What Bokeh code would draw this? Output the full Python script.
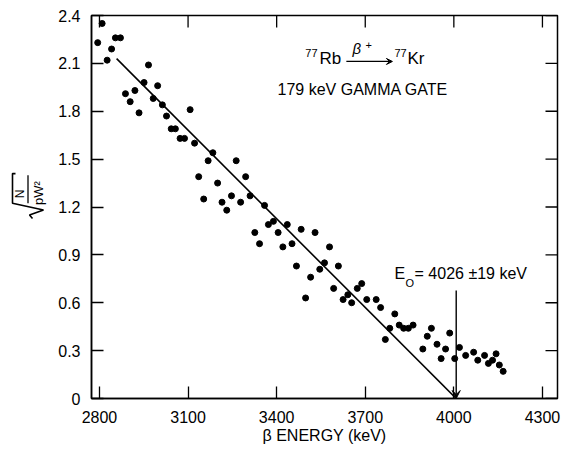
import math
from bokeh.plotting import figure
from bokeh.layouts import row
from bokeh.models import FixedTicker, Range1d, Label, Arrow, VeeHead
from bokeh.core.properties import value
from bokeh.embed import file_html
from bokeh.resources import INLINE

# ---- data ----
energy = [2794, 2809, 2826, 2841, 2854, 2871, 2888, 2904, 2920, 2934, 2951, 2966,
          2982, 2997, 3013, 3027, 3043, 3057, 3073, 3088, 3107, 3122, 3136, 3153,
          3168, 3184, 3200, 3215, 3231, 3247, 3263, 3278, 3295, 3310, 3326, 3342,
          3359, 3372, 3389, 3405, 3421, 3436, 3452, 3467, 3483, 3498, 3515, 3530,
          3546, 3562, 3579, 3593, 3609, 3625, 3641, 3654, 3673, 3688, 3705, 3737,
          3752, 3768, 3783, 3800, 3815, 3830, 3846, 3862, 3895, 3910, 3924, 3943,
          3957, 3972, 3986, 4003, 4019, 4040, 4067, 4081, 4104, 4117, 4131, 4143,
          4154, 4167]
kurie = [2.23, 2.35, 2.12, 2.19, 2.26, 2.26, 1.91, 1.86, 1.93, 1.79, 1.98, 2.09,
         1.88, 1.96, 1.84, 1.77, 1.69, 1.69, 1.63, 1.63, 1.81, 1.60, 1.39, 1.25,
         1.49, 1.54, 1.35, 1.23, 1.18, 1.27, 1.49, 1.23, 1.39, 1.27, 1.04, 0.97,
         1.21, 1.09, 1.11, 1.04, 0.95, 1.09, 0.97, 0.83, 1.06, 0.63, 0.76, 1.04,
         0.81, 0.85, 0.95, 0.69, 0.83, 0.62, 0.65, 0.60, 0.69, 0.72, 0.62, 0.62,
         0.57, 0.37, 0.44, 0.53, 0.46, 0.44, 0.44, 0.46, 0.31, 0.39, 0.44, 0.34,
         0.25, 0.31, 0.41, 0.25, 0.32, 0.27, 0.29, 0.24, 0.27, 0.22, 0.24, 0.28,
         0.21, 0.17]
fit_energy = [2858, 4008]
fit_value = [2.13, 0.0]
e0_marker = 4008

x_ticks = [2800, 3100, 3400, 3700, 4000, 4300]
y_ticks = [0, 0.3, 0.6, 0.9, 1.2, 1.5, 1.8, 2.1, 2.4]
y_tick_labels = ["0", "0.3", "0.6", "0.9", "1.2", "1.5", "1.8", "2.1", "2.4"]

FONT = "Liberation Sans"
X0, X1 = 2773, 4351
Y0, Y1 = 0, 2.4
H = 453
LW = 50  # width of the y-label strip

# ---------------- main plot ----------------
p = figure(frame_width=466, frame_height=383, output_backend="svg",
           toolbar_location=None,
           x_range=Range1d(X0, X1), y_range=Range1d(Y0, Y1),
           min_border_left=91 - LW, min_border_top=15, min_border_bottom=H - 15 - 383,
           min_border_right=5)
p.outline_line_color = "black"
p.outline_line_width = 1.5
p.grid.visible = False
p.background_fill_color = "white"

for ax in (p.xaxis[0], p.yaxis[0]):
    ax.axis_line_color = "black"
    ax.axis_line_width = 1.5
    ax.major_tick_in = 12
    ax.major_tick_out = 0
    ax.major_tick_line_width = 1.3
    ax.major_tick_line_color = "black"
    ax.minor_tick_line_color = None
    ax.major_label_text_font = FONT
    ax.major_label_text_font_size = "16px"
    ax.major_label_text_color = "black"

xa = p.xaxis[0]
xa.ticker = FixedTicker(ticks=x_ticks)
xa.major_label_standoff = 12
xa.axis_label = "β ENERGY (keV)"
xa.axis_label_text_font = FONT
xa.axis_label_text_font_size = "16px"
xa.axis_label_text_font_style = "normal"
xa.axis_label_text_color = "black"
xa.axis_label_standoff = 1

ya = p.yaxis[0]
ya.ticker = FixedTicker(ticks=y_ticks)
ya.major_label_overrides = {t: l for t, l in zip(y_ticks, y_tick_labels)}
ya.major_label_standoff = 11

# ticks on the top and right edges of the frame
tick_len_y = 12 * (Y1 - Y0) / 383
tick_len_x = 12 * (X1 - X0) / 466
p.segment(x0=x_ticks, y0=[Y1] * len(x_ticks), x1=x_ticks,
          y1=[Y1 - tick_len_y] * len(x_ticks), line_color="black", line_width=1.3)
p.segment(x0=[X1] * len(y_ticks), y0=y_ticks, x1=[X1 - tick_len_x] * len(y_ticks),
          y1=y_ticks, line_color="black", line_width=1.3)

# data points and fit line
p.scatter(energy, kurie, size=6, color="black")
p.line(fit_energy, fit_value, line_color="black", line_width=1.6)

# E0 arrow
p.add_layout(Arrow(x_start=e0_marker, y_start=0.677, x_end=e0_marker, y_end=0.0,
                   line_width=1.4, line_color="black",
                   end=VeeHead(size=8, fill_color="black", line_color="black")))

def lab(x, y, text, size, **kw):
    p.add_layout(Label(x=x, y=y, text=text, text_font=FONT,
                       text_font_size=size, text_color="black", **kw))

# E0 annotation
lab(3799, 0.727, "E", "16px")
lab(3836, 0.689, "O", "11px")
lab(3867, 0.727, "= 4026 ±19 keV", "16px")

# reaction annotation
lab(3497, 2.137, "77", "11px")
lab(3545, 2.074, "Rb", "17px")
lab(3657, 2.143, "β", "15px", text_font_style="italic")
lab(3701, 2.187, "+", "11px")
p.add_layout(Arrow(x_start=3636, y_start=2.112, x_end=3792, y_end=2.112,
                   line_width=1.2, line_color="black",
                   end=VeeHead(size=6, fill_color="black", line_color="black")))
lab(3799, 2.137, "77", "11px")
lab(3843, 2.074, "Kr", "17px")
lab(3403, 1.880, "179 keV GAMMA GATE", "16px")

# ---------------- y-axis label strip: sqrt(N / pW^2), rotated ----------------
q = figure(width=LW, height=H, output_backend="svg", toolbar_location=None,
           x_range=Range1d(0, LW), y_range=Range1d(H, 0),
           min_border=0, min_border_left=0, min_border_right=0,
           min_border_top=0, min_border_bottom=0)
q.axis.visible = False
q.grid.visible = False
q.outline_line_color = None

q.text(x=[19], y=[211], text=["N"], angle=math.pi / 2, text_font=value(FONT),
       text_font_size="12px", text_align="center", text_baseline="middle",
       text_color="black")
q.text(x=[38], y=[210], text=["pW²"], angle=math.pi / 2, text_font=value(FONT),
       text_font_size="13px", text_align="center", text_baseline="middle",
       text_color="black")
q.line(x=[27.5, 27.5], y=[189, 222], line_color="black", line_width=1.3)
q.line(x=[15, 12, 12, 43, 29, 32], y=[187, 187, 222, 230, 236, 240],
       line_color="black", line_width=1.6)

layout = row(q, p)
open("out.html", "w").write(file_html(layout, INLINE))
